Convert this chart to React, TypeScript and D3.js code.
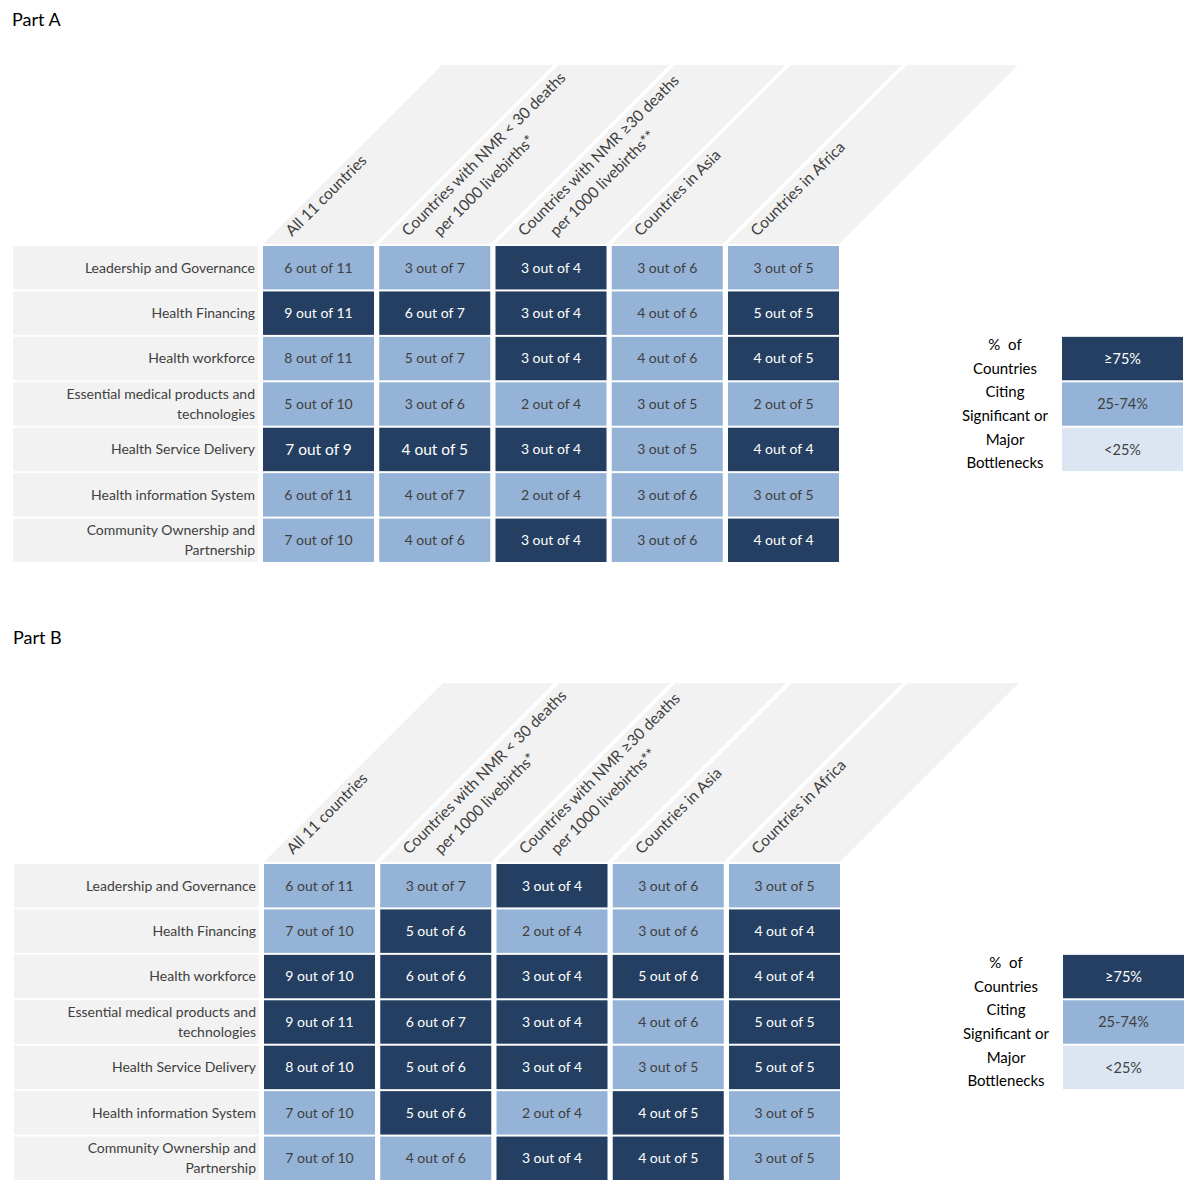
import React, { useEffect, useRef } from "react";
import * as d3 from "d3";

const columns: string[][] = [
  ["All 11 countries"],
  ["Countries with NMR < 30 deaths", "per 1000 livebirths*"],
  ["Countries with NMR ≥30 deaths", "per 1000 livebirths**"],
  ["Countries in Asia"],
  ["Countries in Africa"],
];

const rows: string[][] = [
  ["Leadership and Governance"],
  ["Health Financing"],
  ["Health workforce"],
  ["Essential medical products and", "technologies"],
  ["Health Service Delivery"],
  ["Health information System"],
  ["Community Ownership and", "Partnership"],
];

// numerators / denominators per row, per column
const partANum: number[][] = [
  [6, 3, 3, 3, 3],
  [9, 6, 3, 4, 5],
  [8, 5, 3, 4, 4],
  [5, 3, 2, 3, 2],
  [7, 4, 3, 3, 4],
  [6, 4, 2, 3, 3],
  [7, 4, 3, 3, 4],
];
const partADen: number[][] = [
  [11, 7, 4, 6, 5],
  [11, 7, 4, 6, 5],
  [11, 7, 4, 6, 5],
  [10, 6, 4, 5, 5],
  [9, 5, 4, 5, 4],
  [11, 7, 4, 6, 5],
  [10, 6, 4, 6, 4],
];
const partBNum: number[][] = [
  [6, 3, 3, 3, 3],
  [7, 5, 2, 3, 4],
  [9, 6, 3, 5, 4],
  [9, 6, 3, 4, 5],
  [8, 5, 3, 3, 5],
  [7, 5, 2, 4, 3],
  [7, 4, 3, 4, 3],
];
const partBDen: number[][] = [
  [11, 7, 4, 6, 5],
  [10, 6, 4, 6, 4],
  [10, 6, 4, 6, 4],
  [11, 7, 4, 6, 5],
  [10, 6, 4, 5, 5],
  [10, 6, 4, 5, 5],
  [10, 6, 4, 5, 5],
];
// cells drawn with a larger font in the original (row, col)
const partALarge: number[][] = [[4, 0], [4, 1]];

const legendLabels = ["≥75%", "25-74%", "<25%"];
const legendTitle = ["%  of", "Countries", "Citing", "Significant or", "Major", "Bottlenecks"];
const parts = ["Part A", "Part B"];

const FONT = "Lato, 'Open Sans', sans-serif";
const DARK = "#243f61";
const MID = "#95b3d7";
const LIGHT = "#dce6f2";
const GREY = "#f2f2f2";
const TXT = "#404040";

export default function App() {
  const ref = useRef<SVGSVGElement>(null);

  useEffect(() => {
    const svg = d3.select(ref.current);
    svg.selectAll("*").remove();

    const x = d3.scaleBand<number>().domain(d3.range(columns.length)).range([263, 839]).paddingInner(0.045);
    const color = (v: number) => (v >= 0.75 ? DARK : v >= 0.25 ? MID : LIGHT);

    const datasets = [
      { title: parts[0], num: partANum, den: partADen, large: partALarge, dy: 0, dx: 0 },
      { title: parts[1], num: partBNum, den: partBDen, large: [] as number[][], dy: 618, dx: 1 },
    ];

    datasets.forEach((ds) => {
      const g = svg.append("g").attr("transform", `translate(${ds.dx},${ds.dy})`);
      const y = d3.scaleBand<number>().domain(d3.range(rows.length)).range([246, 562]).paddingInner(0.044);

      g.append("text").attr("x", 12).attr("y", 26).attr("font-family", FONT).attr("font-size", 18).attr("fill", "#000").text(ds.title);

      // header strips
      const top = 65, bottom = 244, h = bottom - top;
      columns.forEach((lines, c) => {
        const x0 = x(c)!, bw = x.bandwidth();
        g.append("polygon")
          .attr("points", [[x0, bottom], [x0 + bw, bottom], [x0 + bw + h, top], [x0 + h, top]].map((p) => p.join(",")).join(" "))
          .attr("fill", GREY);
        const tg = g.append("g").attr("transform", `translate(${x0 + 29},237) rotate(-45)`);
        lines.forEach((ln, i) => {
          tg.append("text")
            .attr("x", i * 22.5)
            .attr("y", i * 22.5)
            .attr("font-family", FONT)
            .attr("font-size", 15.5)
            .attr("fill", TXT)
            .text(ln);
        });
      });

      // row labels and cells
      rows.forEach((lines, r) => {
        const y0 = y(r)!, bh = y.bandwidth();
        g.append("rect").attr("x", 13).attr("y", y0).attr("width", 245).attr("height", bh).attr("fill", GREY);
        lines.forEach((ln, i) => {
          g.append("text")
            .attr("x", 255)
            .attr("y", y0 + bh / 2 + (i - (lines.length - 1) / 2) * 20)
            .attr("dy", "0.35em")
            .attr("text-anchor", "end")
            .attr("font-family", FONT)
            .attr("font-size", 14)
            .attr("fill", TXT)
            .text(ln);
        });
        columns.forEach((_, c) => {
          const n = ds.num[r][c], d = ds.den[r][c];
          const fill = color(n / d);
          const large = ds.large.some(([rr, cc]) => rr === r && cc === c);
          g.append("rect").attr("x", x(c)!).attr("y", y0).attr("width", x.bandwidth()).attr("height", bh).attr("fill", fill);
          g.append("text")
            .attr("x", x(c)! + x.bandwidth() / 2)
            .attr("y", y0 + bh / 2)
            .attr("dy", "0.35em")
            .attr("text-anchor", "middle")
            .attr("font-family", FONT)
            .attr("font-size", large ? 15.5 : 14)
            .attr("fill", fill === DARK ? "#ffffff" : TXT)
            .text(`${n} out of ${d}`);
        });
      });

      // legend
      const lx = 1062, lw = 121;
      legendLabels.forEach((lab, i) => {
        const r = i + 2;
        const fill = [DARK, MID, LIGHT][i];
        g.append("rect").attr("x", lx).attr("y", y(r)!).attr("width", lw).attr("height", y.bandwidth()).attr("fill", fill);
        g.append("text")
          .attr("x", lx + lw / 2)
          .attr("y", y(r)! + y.bandwidth() / 2)
          .attr("dy", "0.35em")
          .attr("text-anchor", "middle")
          .attr("font-family", FONT)
          .attr("font-size", 14.5)
          .attr("fill", i === 0 ? "#ffffff" : TXT)
          .text(lab);
      });
      legendTitle.forEach((ln, i) => {
        g.append("text")
          .attr("x", 1005)
          .attr("y", 345 + i * 23.6)
          .attr("dy", "0.35em")
          .attr("text-anchor", "middle")
          .attr("font-family", FONT)
          .attr("font-size", 15)
          .attr("fill", "#000")
          .style("white-space", "pre")
          .text(ln);
      });
    });
  }, []);

  return (
    <svg
      ref={ref}
      width={1200}
      height={1194}
      style={{ position: "absolute", left: 0, top: 0, display: "block", background: "#fff" }}
    />
  );
}
